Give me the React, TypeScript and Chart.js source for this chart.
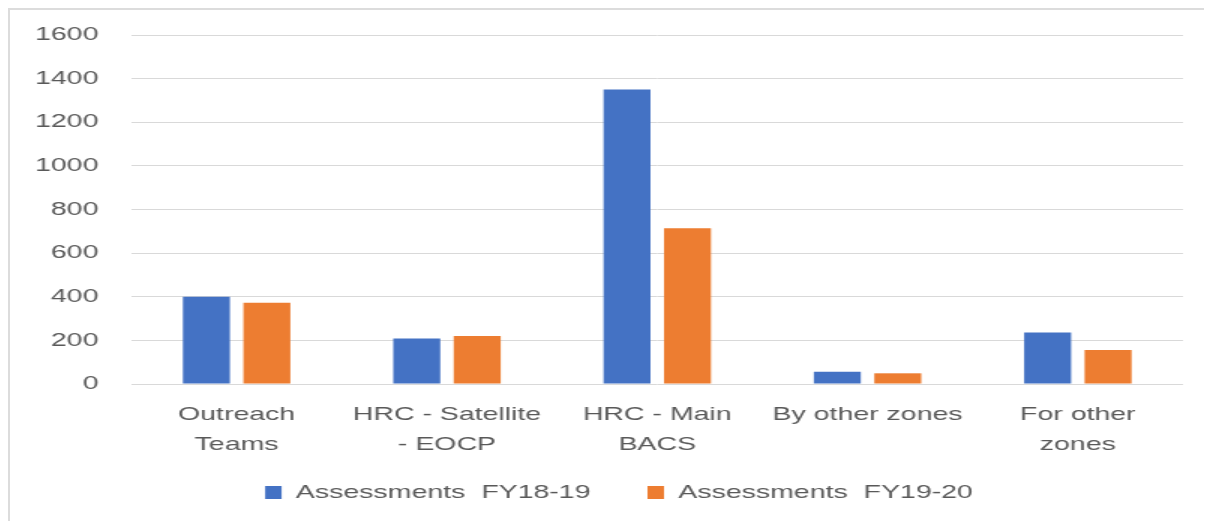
import React, { useEffect, useRef } from "react";
import { Chart, registerables } from "chart.js";

Chart.register(...registerables);

const categories: (string | string[])[] = [
  ["Outreach", "Teams"],
  ["HRC - Satellite", "- EOCP"],
  ["HRC - Main", "BACS"],
  "By other zones",
  ["For other", "zones"],
];
const seriesNames = ["Assessments  FY18-19", "Assessments  FY19-20"];
const fy1819 = [400, 209, 1350, 56, 236];
const fy1920 = [373, 220, 714, 49, 156];
const yTicks = [0, 200, 400, 600, 800, 1000, 1200, 1400, 1600];

const BLUE = "#4472C4";
const ORANGE = "#ED7D31";
const TEXT = "#595959";
const GRID = "#d9d9d9";
const FONT = { family: "'Liberation Sans', Arial, sans-serif", size: 19 };

const CANVAS_W = 796;
const CANVAS_H = 502;
const STRETCH = 1.5;

export default function App() {
  const ref = useRef<HTMLCanvasElement | null>(null);

  useEffect(() => {
    if (!ref.current) return;
    const chart = new Chart(ref.current, {
      type: "bar",
      data: {
        labels: categories,
        datasets: [
          {
            label: seriesNames[0],
            data: fy1819,
            backgroundColor: BLUE,
            categoryPercentage: 0.575,
            barPercentage: 0.777,
          },
          {
            label: seriesNames[1],
            data: fy1920,
            backgroundColor: ORANGE,
            categoryPercentage: 0.575,
            barPercentage: 0.777,
          },
        ],
      },
      options: {
        animation: false,
        responsive: false,
        devicePixelRatio: 1,
        layout: { padding: { top: 25, left: 30, right: 14, bottom: 0 } },
        plugins: {
          tooltip: { enabled: false },
          legend: {
            position: "bottom",
            align: "center",
            labels: {
              boxWidth: 11,
              boxHeight: 13,
              padding: 38,
              color: TEXT,
              font: FONT,
            },
          },
        },
        scales: {
          x: {
            grid: { display: false, drawTicks: false },
            border: { display: false },
            ticks: { color: TEXT, font: { ...FONT, lineHeight: 1.56 }, padding: 16, maxRotation: 0, autoSkip: false },
            afterFit: (s: any) => {
              s.height = 61;
              s._computeLabelArea = () => undefined;
            },
          },
          y: {
            min: 0,
            max: 1600,
            afterBuildTicks: (s: any) => {
              s.ticks = yTicks.map((v) => ({ value: v }));
            },
            grid: { color: GRID, lineWidth: 1, drawTicks: true, tickLength: 22, tickColor: "rgba(0,0,0,0)" },
            border: { display: false },
            ticks: { color: TEXT, font: FONT, padding: 0, callback: (v: any) => String(v) },
            afterFit: (s: any) => {
              s.width = 51;
              s._computeLabelArea = () => undefined;
            },
          },
        },
      },
    });
    return () => chart.destroy();
  }, []);

  return (
    <div
      style={{
        width: 1196,
        height: 513,
        overflow: "hidden",
        boxSizing: "border-box",
        borderTop: "2px solid #dcdcdc",
        borderLeft: "2px solid #dcdcdc",
        background: "#fff",
      }}
    >
      <canvas
        ref={ref}
        width={CANVAS_W}
        height={CANVAS_H}
        style={{
          display: "block",
          width: CANVAS_W + "px",
          height: CANVAS_H + "px",
          transform: `scaleX(${STRETCH})`,
          transformOrigin: "0 0",
        }}
      />
    </div>
  );
}
